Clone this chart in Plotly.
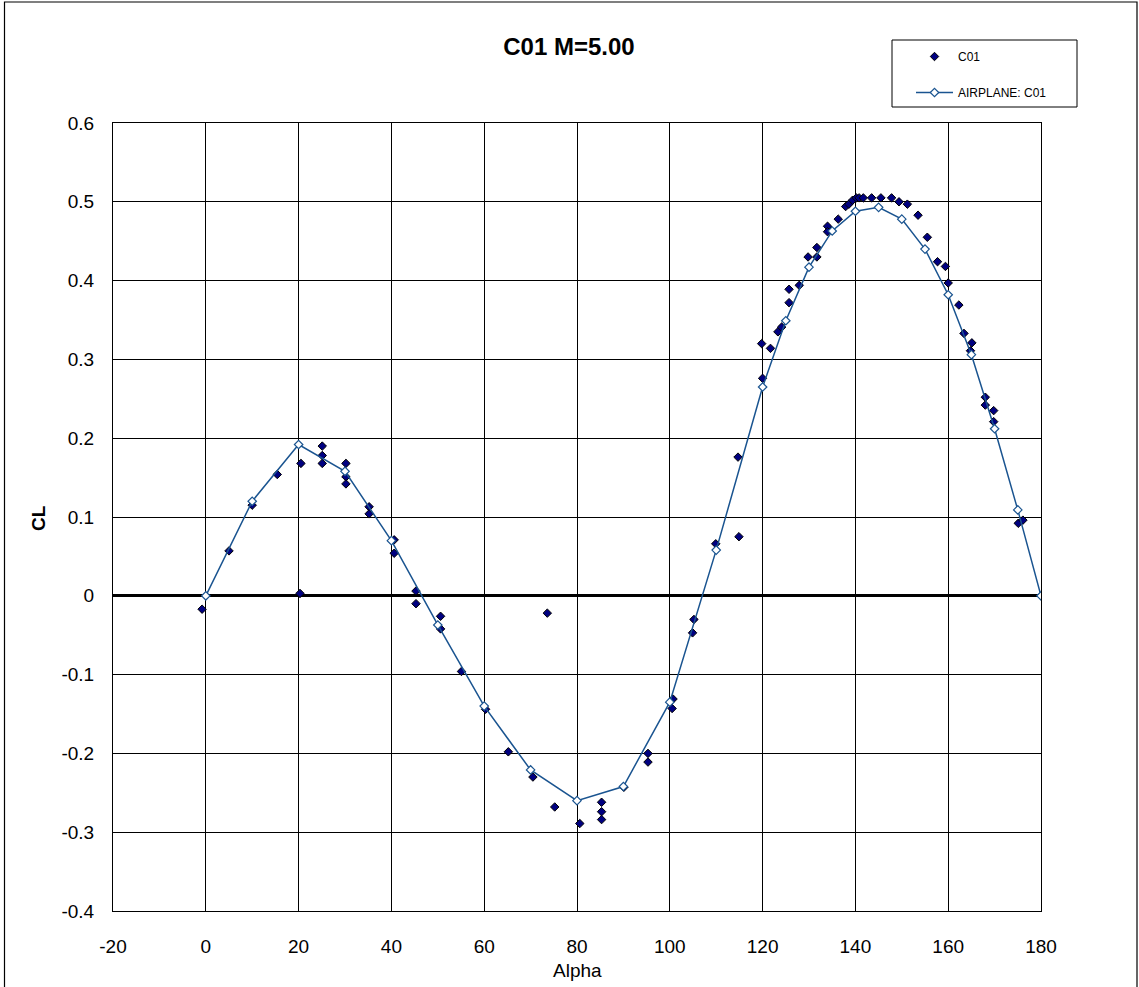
import plotly.graph_objects as go

# measured C01 points
c01_alpha = [-0.8, 5.0, 10.0, 15.4, 20.5, 20.3, 25.1, 25.1, 25.1, 30.2, 30.2, 30.2,
             35.2, 35.2, 40.6, 40.6, 45.3, 45.3, 50.6, 50.6, 55.1, 60.3, 65.2, 70.5,
             73.6, 75.2, 80.6, 85.3, 85.3, 85.3, 90.1, 95.3, 95.3, 100.7, 100.5,
             104.9, 105.2, 109.9, 114.7, 114.9, 119.8, 120.0, 121.7, 123.3, 124.1,
             125.7, 125.7, 127.9, 129.8, 131.7, 131.7, 134.0, 134.0, 136.3, 137.9,
             138.6, 139.4, 140.2, 140.8, 141.7, 143.5, 145.5, 147.8, 149.4, 151.2,
             153.5, 155.5, 157.7, 159.4, 160.0, 162.3, 163.4, 164.8, 165.1, 168.0,
             168.0, 169.8, 169.8, 175.1, 176.1]
c01_cl = [-0.017, 0.057, 0.115, 0.154, 0.168, 0.003, 0.190, 0.178, 0.168, 0.168, 0.151, 0.142,
          0.113, 0.104, 0.071, 0.054, 0.006, -0.010, -0.026, -0.042, -0.096, -0.144, -0.198, -0.230,
          -0.022, -0.268, -0.289, -0.262, -0.274, -0.284, -0.243, -0.200, -0.211, -0.131, -0.143,
          -0.047, -0.030, 0.066, 0.176, 0.075, 0.320, 0.276, 0.314, 0.335, 0.341,
          0.372, 0.389, 0.394, 0.430, 0.430, 0.442, 0.469, 0.462, 0.478, 0.494,
          0.497, 0.502, 0.505, 0.505, 0.505, 0.505, 0.505, 0.505, 0.500, 0.497,
          0.483, 0.455, 0.424, 0.418, 0.397, 0.369, 0.333, 0.311, 0.321, 0.252,
          0.242, 0.235, 0.221, 0.092, 0.096]

# airplane prediction
airplane_alpha = [0, 10, 20, 30, 40, 50, 60, 70, 80, 90, 100, 110, 120, 125, 130, 135,
                  140, 145, 150, 155, 160, 165, 170, 175, 180]
airplane_cl = [0, 0.120, 0.192, 0.158, 0.070, -0.037, -0.140, -0.221, -0.260, -0.242,
               -0.135, 0.058, 0.265, 0.349, 0.417, 0.463, 0.488, 0.493, 0.478, 0.440,
               0.382, 0.306, 0.212, 0.109, 0]

x_ticks = [-20, 0, 20, 40, 60, 80, 100, 120, 140, 160, 180]
x_labels = ["-20", "0", "20", "40", "60", "80", "100", "120", "140", "160", "180"]
y_ticks = [-0.4, -0.3, -0.2, -0.1, 0, 0.1, 0.2, 0.3, 0.4, 0.5, 0.6]
y_labels = ["-0.4", "-0.3", "-0.2", "-0.1", "0", "0.1", "0.2", "0.3", "0.4", "0.5", "0.6"]

FONT = "Liberation Sans, Arial, sans-serif"
FIG_W, FIG_H = 1139, 987
# plot area edges in pixels
L, R, T, B = 113, 1041, 123, 911
W, H = R - L, B - T


def px(x):
    return (x - L) / W


def py(y):
    return (B - y) / H


fig = go.Figure()
fig.add_trace(go.Scatter(
    x=c01_alpha, y=c01_cl, name="C01", mode="markers", legendgroup="a",
    marker={"symbol": "diamond", "size": 6.5, "color": "#000080",
            "line": {"color": "black", "width": 1}},
))
fig.add_trace(go.Scatter(
    x=airplane_alpha, y=airplane_cl, name="AIRPLANE: C01", mode="lines+markers",
    legendgroup="b",
    line={"color": "#1a5490", "width": 1.5},
    marker={"symbol": "diamond", "size": 6.5, "color": "white",
            "line": {"color": "#1a5490", "width": 1.2}},
))

axis_common = {
    "showgrid": True, "gridcolor": "black", "gridwidth": 1,
    "showline": True, "linecolor": "black", "linewidth": 1, "mirror": True,
    "ticks": "", "tickfont": {"family": FONT, "size": 19, "color": "black"},
}

fig.update_layout(
    width=FIG_W, height=FIG_H,
    margin={"l": L, "r": FIG_W - R, "t": T, "b": FIG_H - B},
    paper_bgcolor="white", plot_bgcolor="white",
    font={"family": FONT, "color": "black"},
    title={"text": "<b>C01 M=5.00</b>", "x": px(569), "xref": "paper",
           "y": 1 - 47 / FIG_H, "yanchor": "middle", "xanchor": "center",
           "font": {"family": FONT, "size": 24, "color": "black"}},
    xaxis={**axis_common, "range": [-20, 180], "tickvals": x_ticks, "ticktext": x_labels,
           "zeroline": False, "ticklabelstandoff": 18},
    yaxis={**axis_common, "range": [-0.4, 0.6], "tickvals": y_ticks, "ticktext": y_labels,
           "zeroline": True, "zerolinecolor": "black", "zerolinewidth": 2.5,
           "ticklabelstandoff": 14},
    showlegend=True,
    legend={"x": px(911), "y": py(42), "xanchor": "left", "yanchor": "top",
            "bgcolor": "rgba(0,0,0,0)", "borderwidth": 0,
            "traceorder": "grouped", "tracegroupgap": 17, "itemwidth": 37,
            "font": {"family": FONT, "size": 12, "color": "black"}},
    shapes=[
        # outer frame
        {"type": "rect", "xref": "paper", "yref": "paper",
         "x0": px(4.5), "x1": px(1137), "y0": py(995), "y1": py(2),
         "line": {"color": "black", "width": 1.2}},
        # legend frame
        {"type": "rect", "xref": "paper", "yref": "paper",
         "x0": px(892), "x1": px(1077), "y0": py(107), "y1": py(40),
         "line": {"color": "black", "width": 1}},
    ],
    annotations=[
        {"text": "<b>CL</b>", "xref": "paper", "yref": "paper", "x": px(38), "y": py(518),
         "xanchor": "center", "yanchor": "middle",
         "textangle": -90, "showarrow": False, "font": {"family": FONT, "size": 19}},
        {"text": "Alpha", "xref": "paper", "yref": "paper", "x": px(577), "y": py(970),
         "xanchor": "center", "yanchor": "middle",
         "showarrow": False, "font": {"family": FONT, "size": 19}},
    ],
)

# drop the default page margin so the figure sits at the window's corner
fig.write_html("out.html", config={"displayModeBar": False},
               post_script="document.body.style.margin='0';document.body.style.overflow='hidden';")
